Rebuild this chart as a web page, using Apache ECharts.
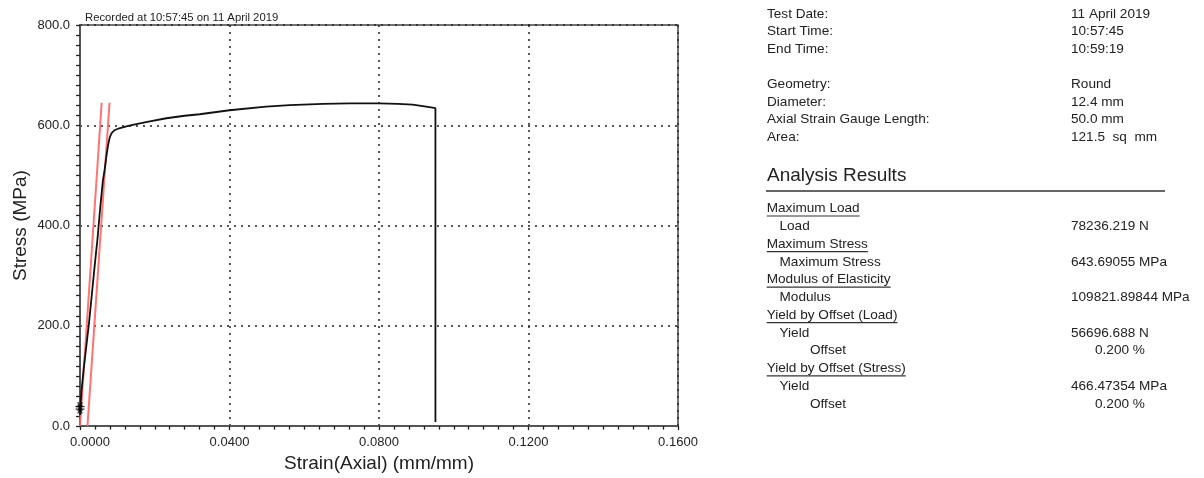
<!DOCTYPE html>
<html>
<head>
<meta charset="utf-8">
<script src="https://cdn.jsdelivr.net/npm/echarts@6.0.0/dist/echarts.min.js"></script>
<style>
html,body{margin:0;padding:0;background:#fff;}
#chart{width:1204px;height:478px;}
</style>
</head>
<body>
<div id="chart"></div>
<script>
// ---------- DATA ----------
const curveStrain = [0.0000, 0.0001, 0.0004, 0.0010, 0.0017, 0.0024, 0.0032, 0.0040, 0.0047, 0.0054,
  0.0061, 0.0066, 0.0071, 0.0075, 0.0080, 0.0085, 0.0092, 0.0105, 0.0124, 0.0141, 0.0180, 0.0231,
  0.0280, 0.0320, 0.0400, 0.0498, 0.0561, 0.0650, 0.0720, 0.0800, 0.0850, 0.0890, 0.0935, 0.0951, 0.0951];
const curveStress = [22, 38, 70, 115, 160, 205, 265, 325, 375, 435,
  488, 512, 540, 560, 577, 585, 590, 594, 598, 601, 607, 614,
  619, 622, 630, 637, 640, 642.5, 643.5, 643.7, 642.5, 641, 636, 634, 8];
const modulusLineStrain = [0.0000, 0.0058];
const modulusLineStress = [0, 645];
const offsetLineStrain = [0.0020, 0.0079];
const offsetLineStress = [0, 645];
const markerStrain = [0.0000, 0.0000];
const markerStress = [34, 39];

const xAxisTitle = 'Strain(Axial) (mm/mm)';
const yAxisTitle = 'Stress (MPa)';
const recordedNote = 'Recorded at 10:57:45 on 11 April 2019';

const infoLabels = ['Test Date:', 'Start Time:', 'End Time:', '', 'Geometry:', 'Diameter:', 'Axial Strain Gauge Length:', 'Area:'];
const infoValues = ['11 April 2019', '10:57:45', '10:59:19', '', 'Round', '12.4 mm', '50.0 mm', '121.5  sq  mm'];

const resultsTitle = 'Analysis Results';
const resultLevels = [0, 1, 0, 1, 0, 1, 0, 1, 2, 0, 1, 2];
const resultLabels = ['Maximum Load', 'Load', 'Maximum Stress', 'Maximum Stress', 'Modulus of Elasticity', 'Modulus',
  'Yield by Offset (Load)', 'Yield', 'Offset', 'Yield by Offset (Stress)', 'Yield', 'Offset'];
const resultValues = ['', '78236.219 N', '', '643.69055 MPa', '', '109821.89844 MPa',
  '', '56696.688 N', '0.200 %', '', '466.47354 MPa', '0.200 %'];

// ---------- BUILD ----------
const zip = (a, b) => a.map((v, i) => [v, b[i]]);
const FONT = '"Liberation Sans", Arial, sans-serif';
const TXT = '#222';

const chart = echarts.init(document.getElementById('chart'), null, {renderer: 'canvas'});

const mctx = document.createElement('canvas').getContext('2d');
const panelSize = 13.6;
mctx.font = panelSize + 'px ' + FONT;

const graphics = [];
graphics.push({type: 'text', x: 85, y: 18, style: {text: recordedNote, fontSize: 11.3, fontFamily: FONT, fill: TXT, verticalAlign: 'middle', align: 'left'}});

const labelX = 767, valueX = 1071;
infoLabels.forEach((t, i) => {
  const y = 14 + i * 17.6;
  if (t) graphics.push({type: 'text', x: labelX, y: y, style: {text: t, fontSize: panelSize, fontFamily: FONT, fill: TXT, verticalAlign: 'middle'}});
  if (infoValues[i]) graphics.push({type: 'text', x: valueX, y: y, style: {text: infoValues[i], fontSize: panelSize, fontFamily: FONT, fill: TXT, verticalAlign: 'middle'}});
});

graphics.push({type: 'text', x: labelX, y: 176, style: {text: resultsTitle, fontSize: 19, fontFamily: FONT, fill: TXT, verticalAlign: 'middle'}});
graphics.push({type: 'line', shape: {x1: 766, y1: 191, x2: 1165, y2: 191}, style: {stroke: '#333', lineWidth: 1.5}});

const indent = [766.7, 779.5, 810];
resultLabels.forEach((t, i) => {
  const y = 208.5 + i * 17.77;
  const lv = resultLevels[i];
  graphics.push({type: 'text', x: indent[lv], y: y, style: {text: t, fontSize: panelSize, fontFamily: FONT, fill: TXT, verticalAlign: 'middle'}});
  if (lv === 0) {
    const w = mctx.measureText(t).width;
    graphics.push({type: 'line', shape: {x1: indent[0], y1: y + 7.5, x2: indent[0] + w, y2: y + 7.5}, style: {stroke: '#333', lineWidth: 1.2}});
  }
  if (resultValues[i]) {
    graphics.push({type: 'text', x: lv === 2 ? 1095 : valueX, y: y, style: {text: resultValues[i], fontSize: panelSize, fontFamily: FONT, fill: TXT, verticalAlign: 'middle'}});
  }
});

const starPath = 'path://M0,5L10,5M2.5,0.67L7.5,9.33M2.5,9.33L7.5,0.67';

const option = {
  animation: false,
  backgroundColor: '#fff',
  grid: {left: 80, right: 526, top: 25, bottom: 49, show: true, borderColor: '#444', borderWidth: 1.5, containLabel: false},
  xAxis: {
    type: 'value', min: 0, max: 0.16, interval: 0.04,
    name: xAxisTitle, nameLocation: 'middle', nameGap: 26,
    nameTextStyle: {fontSize: 19, fontFamily: FONT, color: TXT},
    axisLine: {show: true, onZero: false, lineStyle: {color: '#555', width: 2}},
    axisTick: {show: true, length: 4, lineStyle: {color: '#222', width: 1.3}},
    minorTick: {show: true, splitNumber: 10, length: 3.5, lineStyle: {color: '#222', width: 1.3}},
    axisLabel: {
      fontSize: 13, fontFamily: FONT, color: TXT, margin: 10,
      formatter: (v) => (Math.abs(v) < 1e-9 ? '{p|' + (0).toFixed(4) + '}' : v.toFixed(4)),
      rich: {p: {fontSize: 13, fontFamily: FONT, color: TXT, padding: [0, 0, 0, 20]}}
    },
    splitLine: {show: true, lineStyle: {color: '#222', width: 1.5, type: [2, 5]}}
  },
  yAxis: {
    type: 'value', min: 0, max: 800, interval: 200,
    name: yAxisTitle, nameLocation: 'middle', nameGap: 50,
    nameTextStyle: {fontSize: 19, fontFamily: FONT, color: TXT},
    axisLine: {show: true, onZero: false, lineStyle: {color: '#555', width: 2}},
    axisTick: {show: true, length: 4, lineStyle: {color: '#222', width: 1.3}},
    minorTick: {show: true, splitNumber: 10, length: 4, lineStyle: {color: '#222', width: 1.3}},
    axisLabel: {fontSize: 13, fontFamily: FONT, color: TXT, margin: 10, formatter: (v) => v.toFixed(1)},
    splitLine: {show: true, lineStyle: {color: '#222', width: 1.5, type: [2, 5]}}
  },
  series: [
    {type: 'line', data: zip(modulusLineStrain, modulusLineStress), symbol: 'none', silent: true,
      lineStyle: {color: '#ff6464', width: 2, opacity: 0.9}, z: 2},
    {type: 'line', data: zip(offsetLineStrain, offsetLineStress), symbol: 'none', silent: true,
      lineStyle: {color: '#ff6464', width: 2, opacity: 0.9}, z: 2},
    {type: 'line', data: zip(curveStrain, curveStress), symbol: 'none', silent: true,
      lineStyle: {color: '#111', width: 1.8}, z: 3},
    {type: 'scatter', data: zip(markerStrain, markerStress), symbol: starPath, symbolSize: 9, silent: true,
      itemStyle: {color: 'transparent', borderColor: '#000', borderWidth: 1.2}, z: 4}
  ],
  graphic: graphics
};
chart.setOption(option);
</script>
</body>
</html>
